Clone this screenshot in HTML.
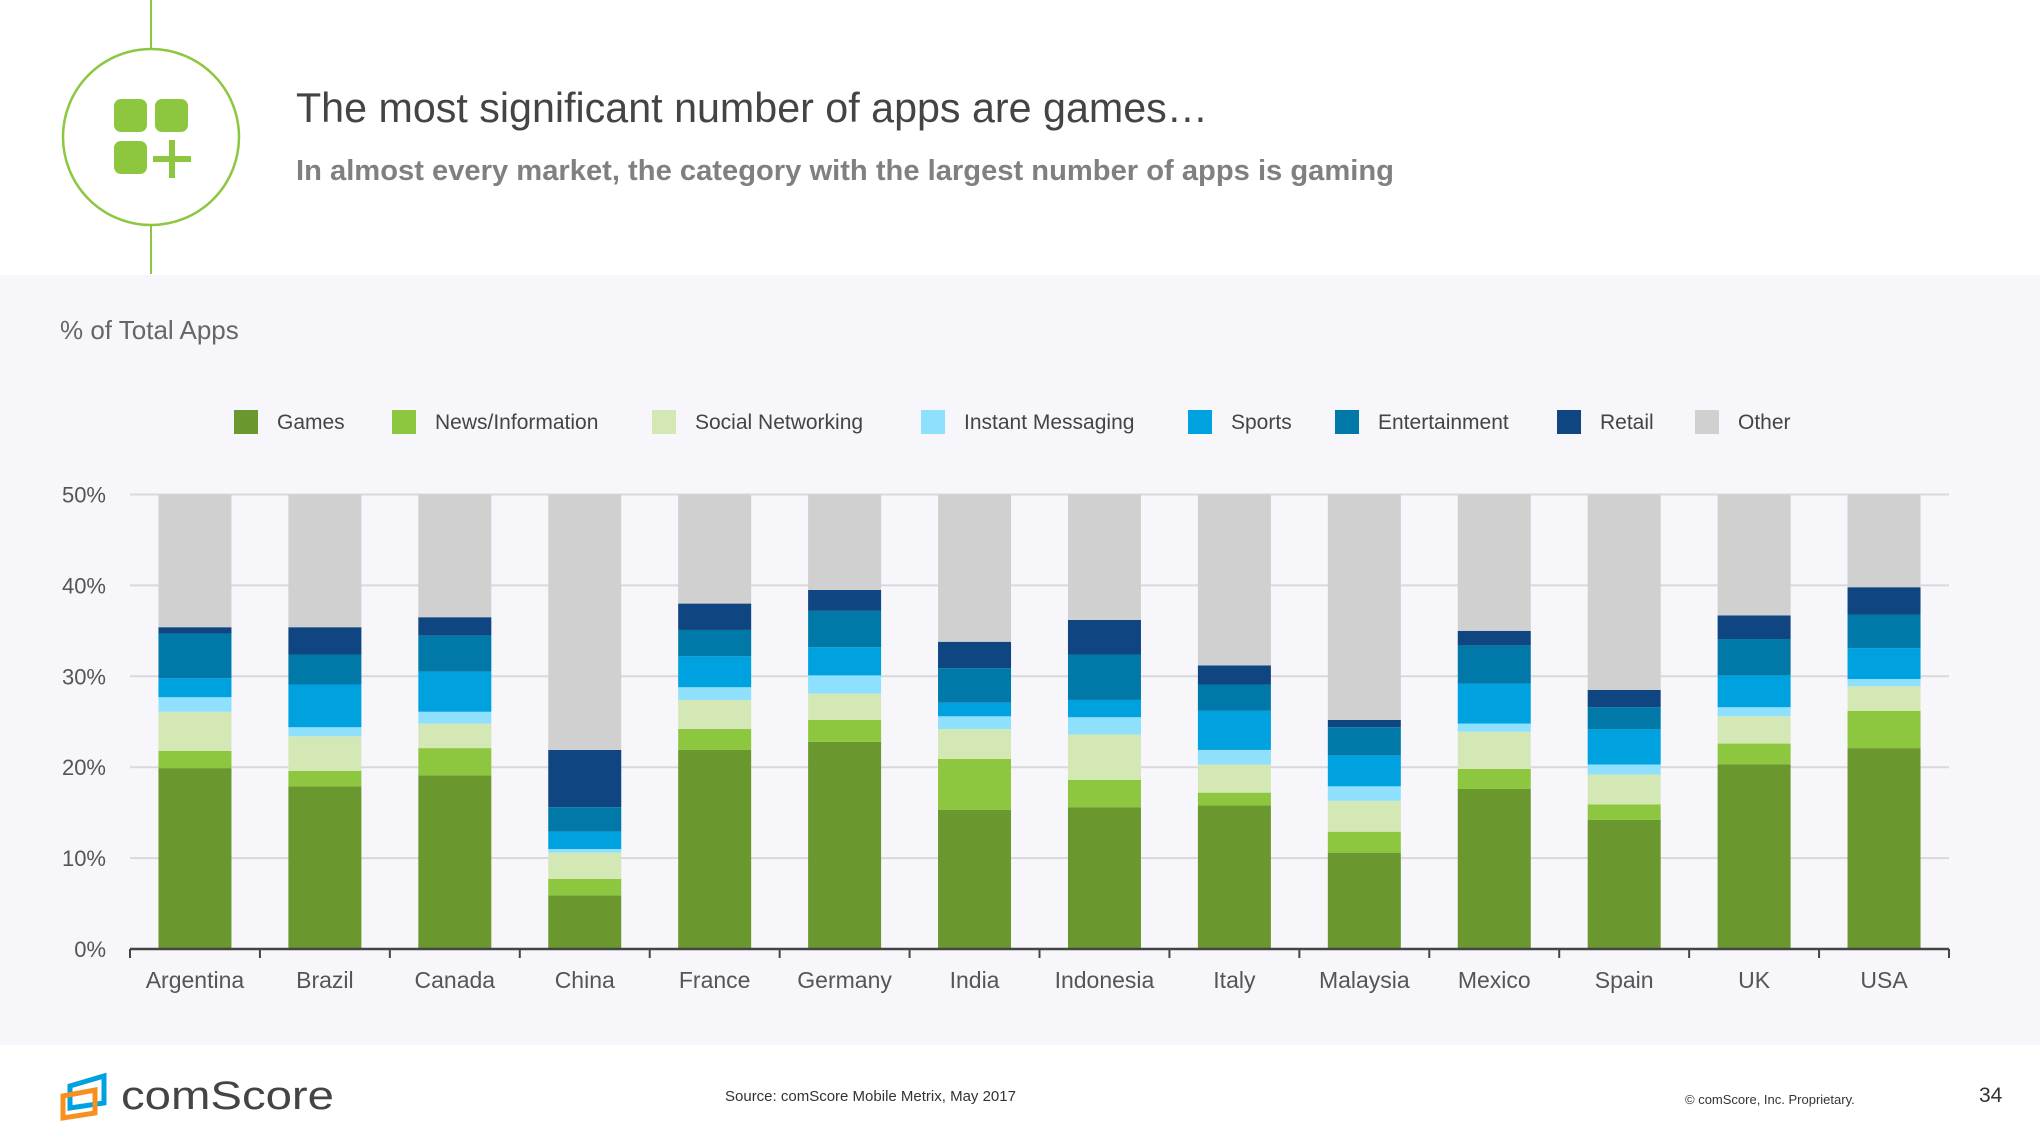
<!DOCTYPE html>
<html><head><meta charset="utf-8"><style>
html,body{margin:0;padding:0;background:#fff;}
svg{display:block;font-family:"Liberation Sans",sans-serif;}
</style></head><body>
<svg id="chart" width="2040" height="1148" viewBox="0 0 2040 1148" xmlns="http://www.w3.org/2000/svg">
<rect x="0" y="0" width="2040" height="1148" fill="#fff"/>
<rect x="0" y="275" width="2040" height="770" fill="#f7f7fb"/>
<line x1="151" y1="0" x2="151" y2="274" stroke="#8dc63f" stroke-width="2"/>
<g>
<circle cx="151" cy="137" r="88" fill="#fff" stroke="#8dc63f" stroke-width="2.5"/>
<rect x="114" y="99" width="33" height="33" rx="7" fill="#8dc63f"/>
<rect x="155" y="99" width="33" height="33" rx="7" fill="#8dc63f"/>
<rect x="114" y="141" width="33" height="33" rx="7" fill="#8dc63f"/>
<rect x="153" y="156" width="38" height="6" fill="#8dc63f"/>
<rect x="169" y="140" width="6" height="38" fill="#8dc63f"/>
</g>
<text x="296" y="122" font-size="42" fill="#444" textLength="912" lengthAdjust="spacingAndGlyphs">The most significant number of apps are games…</text>
<text x="296" y="180" font-size="29" font-weight="bold" fill="#808080" textLength="1098" lengthAdjust="spacingAndGlyphs">In almost every market, the category with the largest number of apps is gaming</text>
<text x="60" y="339" font-size="26" fill="#666">% of Total Apps</text>
<g id="legend"></g>
<g id="grid"></g>
<g id="bars"></g>
<g id="axes"></g>
<g>
<g>
<path d="M70 1086 L104 1076 L104 1103 L70 1108 Z" fill="none" stroke="#00a1df" stroke-width="5"/>
<path d="M63 1096 L95 1090 L95 1113 L63 1118 Z" fill="none" stroke="#f7901e" stroke-width="5"/>
</g>
<text x="121" y="1109" font-size="40" fill="#444" textLength="213" lengthAdjust="spacingAndGlyphs">comScore</text>
<text x="725" y="1101" font-size="15" fill="#333">Source: comScore Mobile Metrix, May 2017</text>
<text x="1685" y="1104" font-size="13" fill="#333">© comScore, Inc. Proprietary.</text>
<text x="1979" y="1102" font-size="21" fill="#333">34</text>
</g>
</svg>
<script>
const categories=["Argentina","Brazil","Canada","China","France","Germany","India","Indonesia","Italy","Malaysia","Mexico","Spain","UK","USA"];
const seriesNames=["Games","News/Information","Social Networking","Instant Messaging","Sports","Entertainment","Retail","Other"];
const games=[19.9,17.9,19.1,5.9,21.9,22.8,15.3,15.6,15.8,10.6,17.6,14.2,20.3,22.1];
const news=[1.9,1.7,3.0,1.8,2.3,2.4,5.6,3.0,1.4,2.3,2.2,1.7,2.3,4.1];
const social=[4.3,3.8,2.7,2.9,3.2,2.9,3.3,5.0,3.1,3.4,4.1,3.3,3.0,2.7];
const im=[1.6,1.0,1.3,0.4,1.4,2.0,1.4,1.9,1.6,1.6,0.9,1.1,1.0,0.8];
const sports=[2.1,4.7,4.4,1.9,3.4,3.1,1.5,1.9,4.3,3.4,4.4,3.9,3.5,3.4];
const entertainment=[4.9,3.3,4.0,2.7,2.9,4.0,3.8,5.0,2.9,3.1,4.2,2.4,4.0,3.7];
const retail=[0.7,3.0,2.0,6.3,2.9,2.3,2.9,3.8,2.1,0.8,1.6,1.9,2.6,3.0];
const yTicks=["0%","10%","20%","30%","40%","50%"];
const colors=["#6a972e","#8dc63f","#d3e8b4","#8fe0fd","#00a1df","#0079a8","#0f4580","#d0d0d0"];
const NS="http://www.w3.org/2000/svg";
const X0=130,X1=1949,Y0=949,Y50=494.5,BW=73;
const band=(X1-X0)/categories.length;
const y=v=>Y0-(v/50)*(Y0-Y50);
const xc=i=>X0+band*(i+0.5);
function mk(tag,attrs,parent){const e=document.createElementNS(NS,tag);for(const k in attrs)e.setAttribute(k,attrs[k]);parent.appendChild(e);return e;}
const grid=document.getElementById('grid'),bars=document.getElementById('bars'),axes=document.getElementById('axes'),legend=document.getElementById('legend');
yTicks.forEach((t,i)=>{const v=i*10;
 const l=mk('line',{x1:X0,x2:X1,y1:y(v),y2:y(v),stroke:'#d9d9dd','stroke-width':2},grid);
 
 
 const tx=mk('text',{x:106,y:y(v)+8,'font-size':22,fill:'#555','text-anchor':'end'},axes);tx.textContent=t;
 
 
});
const series=[games,news,social,im,sports,entertainment,retail];
categories.forEach((c,i)=>{let cum=0;
 const g=mk('g',{},bars);
 
 
 series.forEach((s,k)=>{const r=mk('rect',{x:xc(i)-BW/2,y:y(cum+s[i]),width:BW,height:y(cum)-y(cum+s[i]),fill:colors[k]},g);
  
  
  cum+=s[i];});
 const o=mk('rect',{x:xc(i)-BW/2,y:y(50),width:BW,height:y(cum)-y(50),fill:colors[7]},g);
 
 
 const tl=mk('text',{x:xc(i),y:988,'font-size':23,fill:'#555','text-anchor':'middle'},axes);tl.textContent=c;
 
 
});
mk('line',{x1:X0,x2:X1,y1:Y0,y2:Y0,stroke:'#444','stroke-width':2.5},axes);
for(let i=0;i<=categories.length;i++){const t=mk('line',{x1:X0+band*i,x2:X0+band*i,y1:Y0,y2:Y0+9,stroke:'#444','stroke-width':2},axes);
 
 }
const legX=[234,392,652,921,1188,1335,1557,1695];
seriesNames.forEach((n,k)=>{const g=mk('g',{},legend);
 
 
 mk('rect',{x:legX[k],y:410,width:24,height:24,fill:colors[k]},g);
 const t=mk('text',{x:legX[k]+43,y:429,'font-size':21,fill:'#444'},g);t.textContent=n;});
</script>
</body></html>
